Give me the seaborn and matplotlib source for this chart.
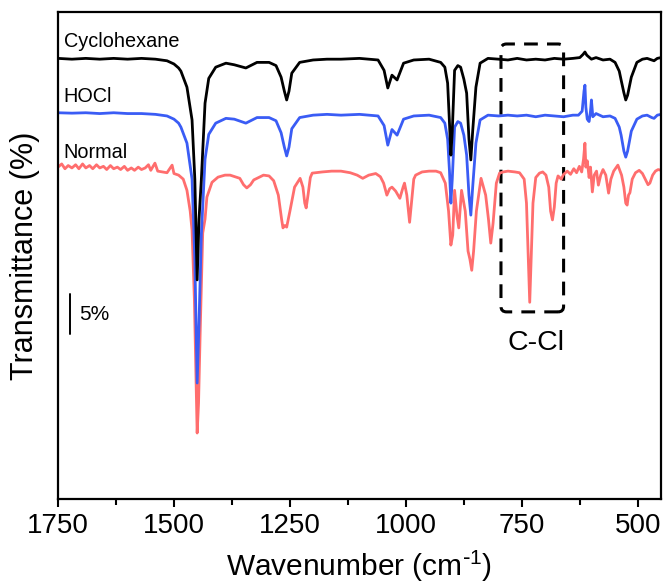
import numpy as np
import pandas as pd
import matplotlib
matplotlib.use("Agg")
import matplotlib.pyplot as plt
from matplotlib.patches import FancyBboxPatch
import seaborn as sns

# ---- data (y in stacked transmittance %) ----
cyc_w = [1750, 1720, 1690, 1660, 1630, 1600, 1570, 1540, 1515, 1500, 1490, 1485, 1472, 1461, 1455, 1450,
         1446, 1441, 1433, 1425, 1410, 1388, 1370, 1345, 1321, 1295, 1280, 1269, 1262, 1257, 1252, 1246,
         1229, 1200, 1170, 1140, 1100, 1060, 1047, 1039, 1030, 1019, 1005, 983, 950, 925, 916, 910, 906,
         903, 900, 895, 888, 882, 875, 869, 864, 860, 856, 849, 840, 823, 800, 780, 760, 740, 720, 700,
         680, 660, 640, 625, 618, 614, 610, 600, 590, 575, 560, 549, 540, 536, 530, 526, 522, 514, 502,
         490, 480, 470, 465, 458, 450]
cyc_t = [55.1, 55.0, 55.1, 55.0, 55.1, 55.0, 55.1, 55.0, 54.8, 54.4, 53.9, 53.5, 51.5, 47.4, 40.0, 27.4,
         35.0, 39.9, 49.5, 52.6, 54.0, 54.5, 54.3, 53.9, 54.6, 54.6, 54.2, 52.75, 51.0, 49.9, 51.0, 53.25,
         54.6, 54.9, 55.0, 55.0, 55.1, 54.9, 53.6, 51.4, 53.0, 52.4, 54.5, 54.9, 55.0, 54.6, 54.0, 52.0, 47.0,
         43.0, 46.0, 53.6, 54.2, 54.0, 52.5, 50.75, 45.0, 42.4, 46.0, 51.5, 54.5, 55.1, 55.0, 54.9, 55.1, 54.9, 55.0, 54.9,
         55.1, 55.0, 55.1, 55.2, 55.6, 55.9, 55.5, 55.0, 55.2, 54.9, 55.0, 54.6, 53.5, 52.4, 50.8, 49.9, 50.5, 52.75, 54.6,
         55.0, 55.1, 54.9, 54.8, 55.1, 55.2]

hocl_w = [1750, 1720, 1690, 1660, 1630, 1600, 1570, 1540, 1515, 1500, 1490, 1485, 1472, 1461, 1455, 1450,
          1446, 1441, 1433, 1425, 1410, 1388, 1370, 1345, 1321, 1295, 1280, 1269, 1262, 1257, 1252, 1246,
          1229, 1200, 1170, 1140, 1100, 1060, 1047, 1039, 1030, 1019, 1005, 983, 950, 925, 916, 910, 906,
          903, 900, 895, 888, 882, 875, 869, 864, 860, 856, 849, 840, 823, 800, 780, 760, 740, 720, 700,
          680, 660, 640, 628, 620, 616, 614, 612, 609, 605, 602, 600, 597, 590, 575, 560, 549, 540, 536,
          530, 526, 522, 514, 502, 490, 480, 470, 465, 458, 450]
hocl_t = [48.3, 48.25, 48.3, 48.2, 48.3, 48.2, 48.2, 48.1, 47.9, 47.5, 47.0, 46.5, 44.5, 40.0, 30.0, 14.5,
          22.0, 33.0, 42.5, 45.6, 47.0, 47.6, 47.5, 47.0, 47.7, 47.7, 47.3, 45.8, 44.0, 42.9, 44.0, 46.3,
          47.7, 48.0, 48.1, 48.0, 48.1, 47.9, 46.7, 44.25, 46.2, 45.5, 47.5, 47.9, 48.0, 47.7, 47.0, 45.0, 41.0,
          37.0, 40.0, 46.5, 47.2, 47.0, 45.5, 43.0, 38.0, 35.5, 39.0, 44.5, 47.4, 48.0, 47.9, 48.0, 47.9, 48.0, 47.8, 48.0,
          47.9, 47.8, 48.0, 48.0, 48.5, 51.0, 51.75, 49.0, 47.5, 47.2, 48.5, 49.9, 47.8, 48.2, 47.8, 47.9, 47.6, 46.5, 45.5,
          43.5, 42.75, 43.5, 46.0, 47.5, 47.9, 48.0, 47.7, 47.6, 48.0, 48.1]

norm_w = [1750, 1742, 1735, 1728, 1720, 1712, 1705, 1697, 1690, 1682, 1675, 1667, 1660, 1652, 1645, 1637,
          1630, 1622, 1615, 1607, 1600, 1592, 1585, 1577, 1570, 1562, 1555, 1550, 1541, 1535, 1525, 1515,
          1504, 1500, 1490, 1480, 1472, 1465, 1461, 1456, 1450, 1447, 1443, 1438, 1433, 1429, 1418, 1405,
          1390, 1379, 1358, 1350, 1343, 1335, 1328, 1307, 1295, 1285, 1275, 1268, 1265, 1261, 1257, 1250,
          1240, 1228, 1222, 1218, 1215, 1211, 1206, 1202, 1180, 1160, 1140, 1120, 1105, 1093, 1080, 1065,
          1055, 1048, 1041, 1035, 1030, 1022, 1013, 1006, 1003, 998, 992, 988, 983, 979, 965, 950, 935,
          925, 915, 908, 903, 899, 895, 890, 886, 880, 872, 866, 862, 858, 854, 848, 838, 828, 822, 817,
          812, 805, 798, 790, 780, 765, 755, 745, 740, 736, 733, 730, 726, 720, 712, 705, 698, 692, 688,
          684, 680, 676, 672, 665, 660, 652, 645, 638, 632, 626, 621, 617, 614, 612, 609, 605, 602, 598,
          594, 589, 585, 580, 575, 569, 563, 558, 552, 543, 535, 530, 526, 523, 520, 517, 512, 505, 497,
          490, 484, 478, 474, 468, 462, 456, 450]
norm_t = [41.5, 41.9, 41.3, 41.7, 41.4, 41.8, 41.3, 41.9, 41.4, 41.7, 41.3, 41.8, 41.4, 41.6, 41.2, 41.7,
          41.3, 41.5, 41.2, 41.6, 41.1, 41.4, 41.1, 41.5, 41.2, 41.4, 41.8, 41.1, 42.0, 41.0, 40.9, 40.8,
          41.75, 40.7, 40.5, 40.0, 38.6, 36.0, 33.6, 25.0, 8.25, 12.0, 22.0, 33.25, 35.0, 37.75, 39.6, 40.25,
          40.5, 40.5, 40.1, 39.3, 38.9, 39.3, 39.9, 40.5, 40.4, 39.8, 38.0, 35.0, 33.9, 34.2, 34.0, 36.0,
          39.0, 40.1, 39.0, 37.0, 36.4, 38.0, 40.2, 40.75, 40.9, 41.0, 41.0, 40.8, 40.5, 40.1, 40.5, 40.7,
          40.3, 39.5, 38.0, 38.8, 39.0, 38.5, 37.6, 39.0, 39.5, 38.0, 34.6, 37.0, 40.0, 40.5, 40.9, 41.0, 41.0,
          40.8, 39.5, 36.0, 31.75, 33.0, 38.6, 35.5, 33.9, 38.6, 36.0, 31.0, 30.0, 28.6, 31.0, 36.0, 40.1, 38.0, 35.0, 32.0,
          34.5, 39.5, 40.75, 40.9, 41.0, 40.9, 40.8, 40.0, 37.0, 30.0, 24.6, 30.0, 37.0, 40.2, 40.75, 40.9, 40.5, 39.0, 36.0,
          34.9, 36.5, 39.5, 40.4, 40.0, 40.6, 41.0, 40.6, 41.3, 40.8, 41.6, 40.9, 42.5, 44.5, 41.5, 42.3, 40.2, 41.5, 38.4,
          40.5, 41.0, 39.25, 40.5, 41.2, 40.5, 38.25, 40.0, 41.0, 41.75, 40.5, 39.0, 37.0, 36.75, 38.0, 38.3, 40.0, 40.8, 41.1,
          40.7, 40.0, 39.3, 39.5, 40.5, 41.0, 41.2, 41.1]

series_names = ["Cyclohexane", "HOCl", "Normal"]
series_colors = ["#000000", "#3a5cf5", "#ff6e6e"]

scale_bar = (20.6, 25.6)        # 5 % transmittance
box_range = (660, 795)          # C-Cl region (cm-1)
box_t = (23.4, 56.9)

# ---- style ----
sns.set_style("ticks")
plt.rcParams["font.family"] = ["Liberation Sans", "DejaVu Sans"]
plt.rcParams["mathtext.default"] = "regular"
for key in ["text.color", "axes.labelcolor", "xtick.color", "ytick.color", "axes.edgecolor"]:
    plt.rcParams[key] = "black"

fig = plt.figure(figsize=(6.65, 5.85), dpi=100)
ax = fig.add_axes([58 / 665, 1 - 499 / 585, (661 - 58) / 665, (499 - 12) / 585])

frames = {
    "Normal": (norm_w, norm_t),
    "HOCl": (hocl_w, hocl_t),
    "Cyclohexane": (cyc_w, cyc_t),
}
color_of = dict(zip(series_names, series_colors))
for name in ["Normal", "HOCl", "Cyclohexane"]:
    w, t = frames[name]
    df = pd.DataFrame({"w": w, "t": t})
    sns.lineplot(data=df, x="w", y="t", ax=ax, sort=False, estimator=None,
                 color=color_of[name], linewidth=2.0)

ax.set_xlim(1750, 450)
ax.set_ylim(0, 60.9)
ax.set_xticks([1750, 1500, 1250, 1000, 750, 500])
ax.set_xticks([1625, 1375, 1125, 875, 625], minor=True)
ax.set_yticks([])
ax.tick_params(axis="x", which="major", direction="out", length=6, width=1.5,
               labelsize=20, pad=4, color="black", labelcolor="black")
ax.tick_params(axis="x", which="minor", direction="out", length=4, width=1.5, color="black")
for s in ax.spines.values():
    s.set_linewidth(1.6)
    s.set_edgecolor("black")
    s.set_visible(True)

ax.set_xlabel("Wavenumber (cm$^{\\text{-}1}$)", fontsize=21.5, labelpad=7, color="black")
ax.set_ylabel("Transmittance (%)", fontsize=22, color="black")
ax.yaxis.set_label_coords(-0.03, 0.5)

# series labels
label_y = {"Cyclohexane": 57.25, "HOCl": 50.3, "Normal": 43.3}
for name in series_names:
    ax.text(1738, label_y[name], name, fontsize=14.3, va="center", ha="left", color="black")

# scale bar
ax.plot([1724, 1724], list(scale_bar), color="black", linewidth=1.4)
ax.text(1704, sum(scale_bar) / 2, "5%", fontsize=15, va="center", ha="left", color="black")

# dashed box for C-Cl
box = FancyBboxPatch((box_range[0], box_t[0]), box_range[1] - box_range[0], box_t[1] - box_t[0],
                     boxstyle="round,pad=0,rounding_size=12",
                     mutation_aspect=0.058, fill=False, edgecolor="black",
                     linewidth=2.2, linestyle=(0, (4.5, 3)))
ax.add_patch(box)
ax.text(719, 19.5, "C-Cl", fontsize=20.5, ha="center", va="center", color="black")

fig.savefig("out.png", dpi=100)
